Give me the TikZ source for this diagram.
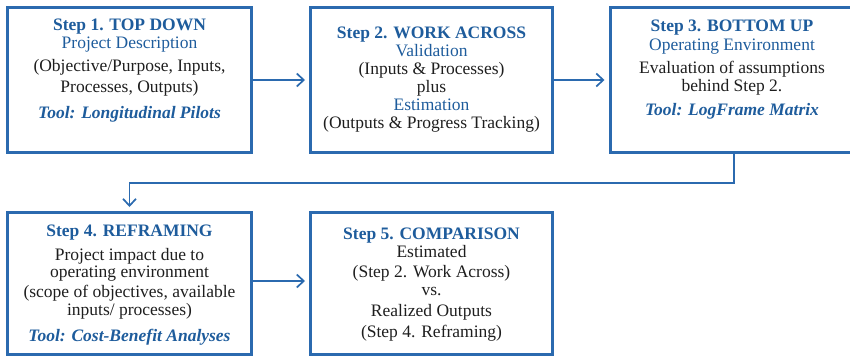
\documentclass[tikz,border=0pt]{standalone}
\usepackage{fontspec}
\setmainfont{Liberation Serif}
\usetikzlibrary{arrows.meta}
\definecolor{boxblue}{RGB}{43,106,175}
\definecolor{titleblue}{RGB}{30,92,156}
\definecolor{txt}{RGB}{30,30,30}
\tikzset{
  stepbox/.style={draw=boxblue, line width=3pt, rectangle, inner sep=0pt},
  steptext/.style={align=center, inner sep=0pt, text=txt,
    font=\fontsize{17.5}{18}\selectfont},
  arr/.style={draw=boxblue, line width=1.7pt,
    -{Straight Barb[length=7pt,width=13pt,line width=1.7pt]}, shorten >=4pt},
}
\newcommand{\ttl}[1]{\textcolor{titleblue}{\bfseries #1}}
\newcommand{\sub}[1]{\textcolor{titleblue}{#1}}
\newcommand{\tool}[1]{\textcolor{titleblue}{\bfseries\itshape #1}}
\begin{document}
\begin{tikzpicture}[x=1pt,y=-1pt]
\useasboundingbox (0,0) rectangle (850,359);
\clip (0,0) rectangle (850,359);
% boxes
\node[stepbox, minimum width=244pt, minimum height=145pt] (b1) at (129.5,80) {};
\node[stepbox, minimum width=242pt, minimum height=145pt] (b2) at (431.5,80) {};
\node[stepbox, minimum width=250pt, minimum height=145pt] (b3) at (735,80) {};
\node[stepbox, minimum width=244pt, minimum height=142pt] (b4) at (129.5,283.5) {};
\node[stepbox, minimum width=242pt, minimum height=142pt] (b5) at (431.5,283.5) {};
% texts
\node[steptext] (t1) at (129.5,71) {\ttl{Step 1. TOP DOWN}\\
  \sub{Project Description}\\[5pt]
  (Objective/Purpose, Inputs,\\[3pt]
  Processes, Outputs)\\[8pt]
  \tool{Tool: Longitudinal Pilots}};
\node[steptext] (t2) at (431.5,80) {\ttl{Step 2. WORK ACROSS}\\
  \sub{Validation}\\
  (Inputs \& Processes)\\
  plus\\
  \sub{Estimation}\\
  (Outputs \& Progress Tracking)};
\node[steptext] (t3) at (732,70) {\ttl{Step 3. BOTTOM UP}\\[1pt]
  \sub{Operating Environment}\\[5pt]
  Evaluation of assumptions\\
  behind Step 2.\\[6pt]
  \tool{Tool: LogFrame Matrix}};
\node[steptext] (t4) at (129.5,285) {\ttl{Step 4. REFRAMING}\\[6pt]
  Project impact due to\\[-1pt]
  operating environment\\[2pt]
  (scope of objectives, available\\
  inputs/ processes)\\[8pt]
  \tool{Tool: Cost-Benefit Analyses}};
\node[steptext] (t5) at (431.5,284.5) {\ttl{Step 5. COMPARISON}\\
  Estimated\\[2pt]
  (Step 2. Work Across)\\
  vs.\\[3pt]
  Realized Outputs\\[3pt]
  (Step 4. Reframing)};
% connectors
\coordinate (c1) at (734,183);
\coordinate (c2) at (129.5,183);
\draw[arr] (b1.east) -- (b2.west);
\draw[arr] (b2.east) -- (b3.west);
\draw[arr] (b3.south -| c1) -- (c1) -- (c2) -- (b4.north);
\draw[arr] ([yshift=2.5pt]b4.east) -- ([yshift=2.5pt]b5.west);
\end{tikzpicture}
\end{document}
